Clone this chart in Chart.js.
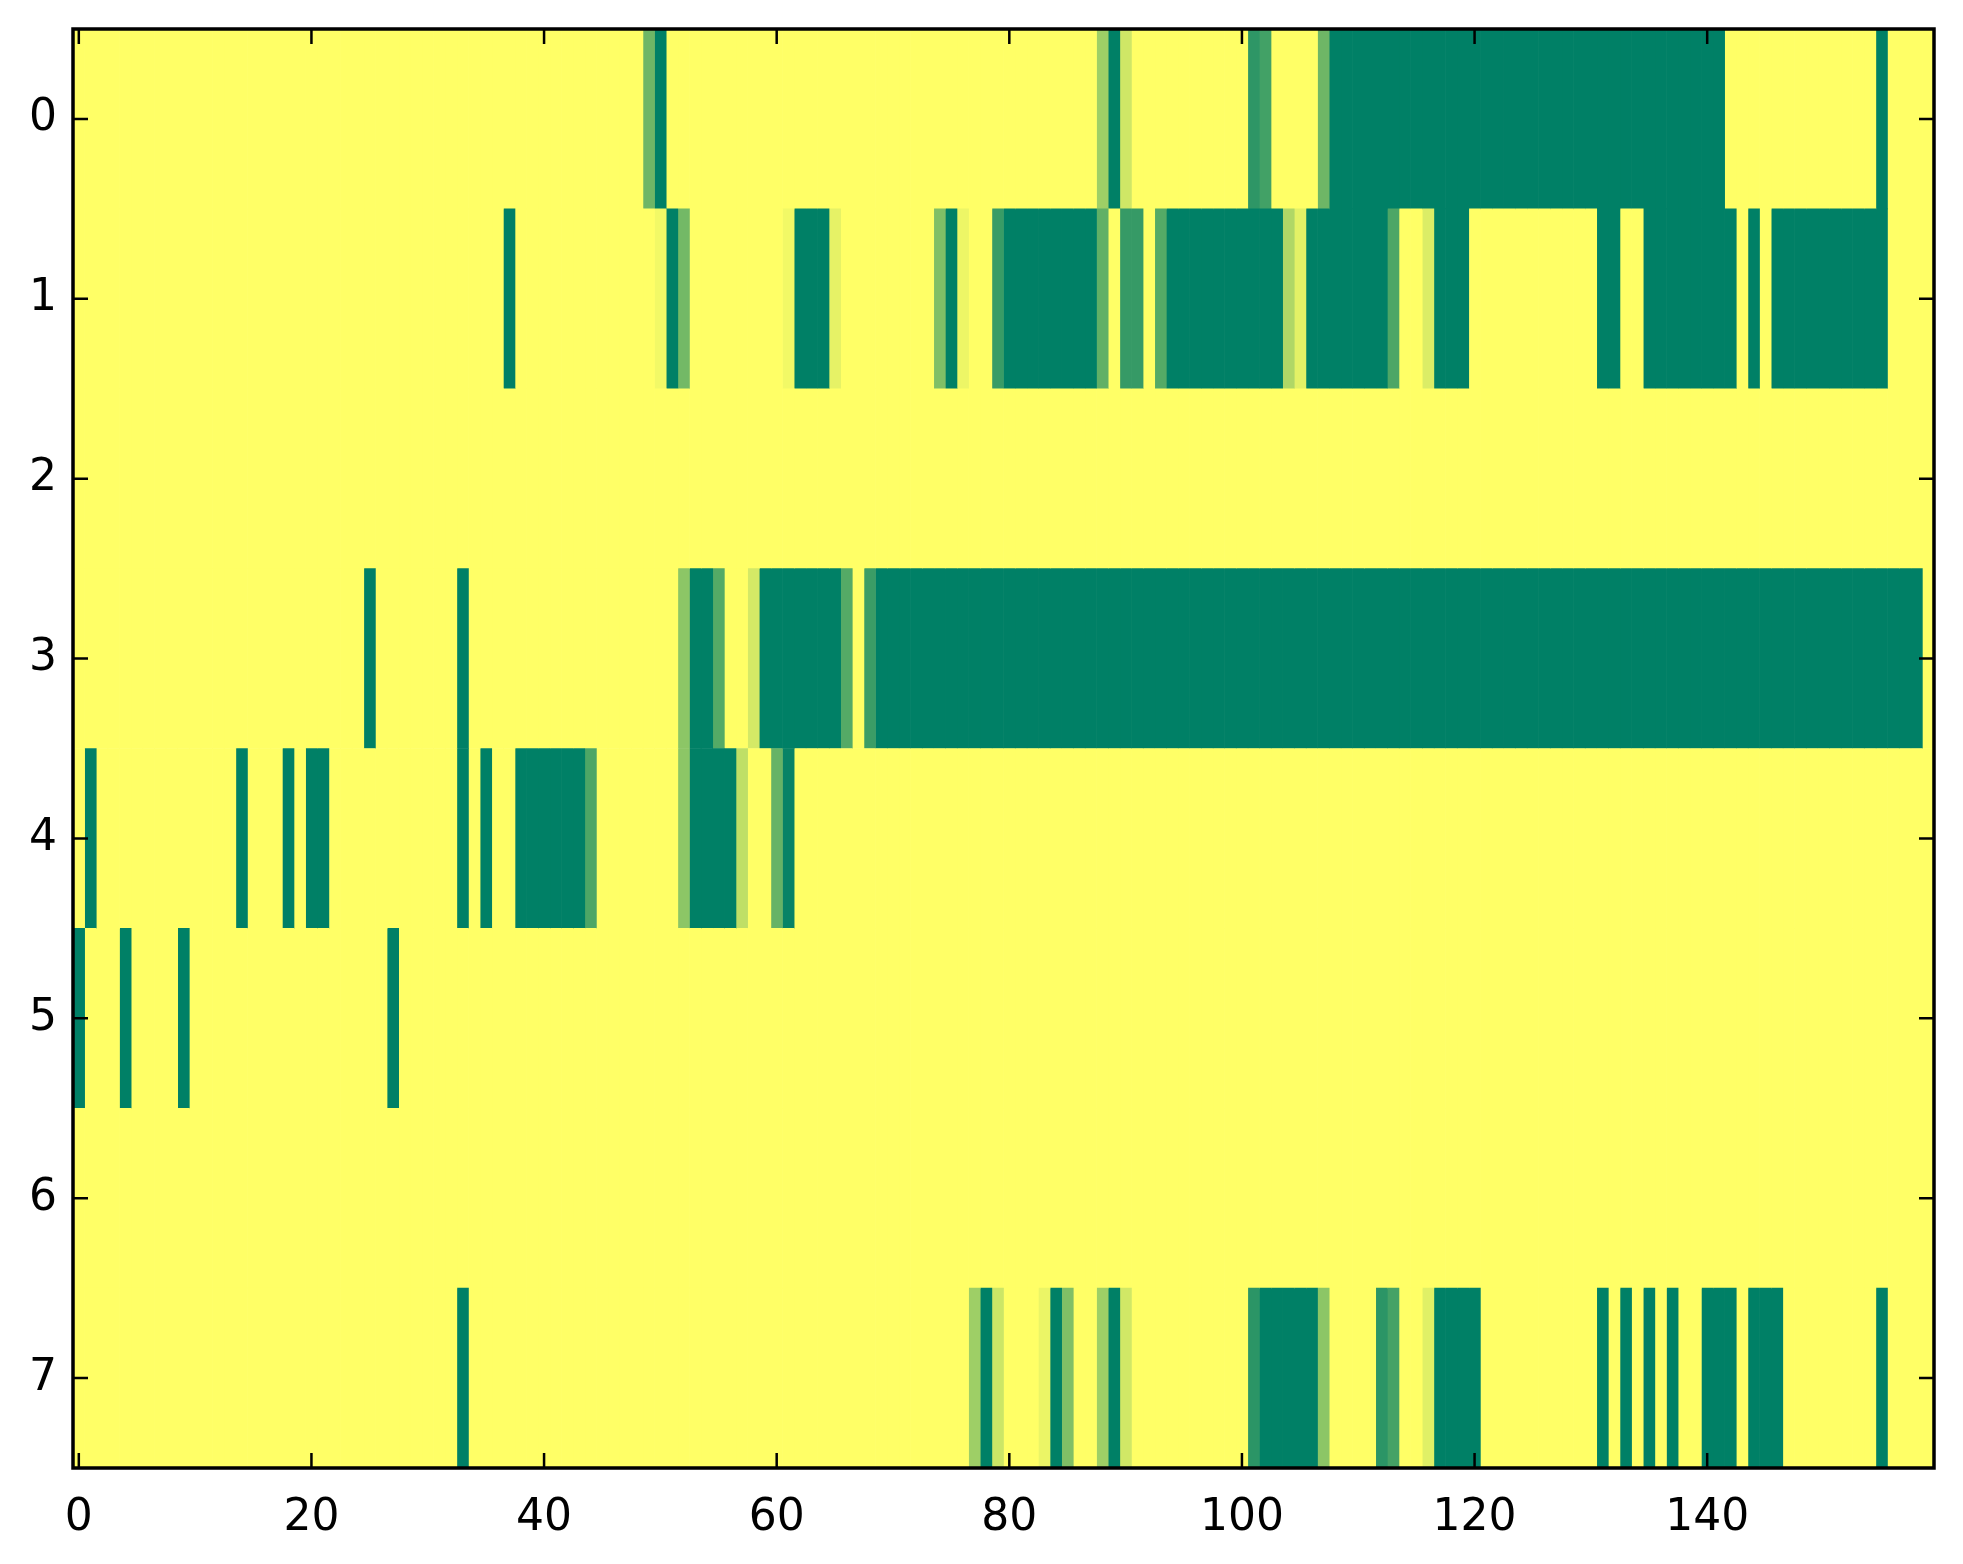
<!DOCTYPE html>
<html>
<head>
<meta charset="utf-8">
<script src="https://cdn.jsdelivr.net/npm/chart.js@4.4.1/dist/chart.umd.min.js"></script>
<style>
  html, body { margin: 0; padding: 0; background: #ffffff; }
  #carte { display: block; width: 1963px; height: 1564px; }
</style>
</head>
<body>
<canvas id="carte" width="1963" height="1564"></canvas>
<script>
// ---------------------------------------------------------------------------
// Données : une ligne de la matrice par tableau (160 colonnes, valeurs 0..1)
// ---------------------------------------------------------------------------
const etiquettesLignes = ['0', '1', '2', '3', '4', '5', '6', '7'];
const ticksX = [0, 20, 40, 60, 80, 100, 120, 140];

const ligne0 = [
  1,1,1,1,1,1,1,1,1,1,1,1,1,1,1,1,1,1,1,1,
  1,1,1,1,1,1,1,1,1,1,1,1,1,1,1,1,1,1,1,1,
  1,1,1,1,1,1,1,1,1,0.43,0,1,1,1,1,1,1,1,1,1,
  1,1,1,1,1,1,1,1,1,1,1,1,1,1,1,1,1,1,1,1,
  1,1,1,1,1,1,1,1,0.62,0,0.81,1,1,1,1,1,1,1,1,1,
  1,0.18,0.26,1,1,1,1,0.43,0,0,0,0,0,0,0,0,0,0,0,0,
  0,0,0,0,0,0,0,0,0,0,0,0,0,0,0,0,0,0,0,0,
  0,0,1,1,1,1,1,1,1,1,1,1,1,1,1,0,1,1,1,1
];
const ligne1 = [
  1,1,1,1,1,1,1,1,1,1,1,1,1,1,1,1,1,1,1,1,
  1,1,1,1,1,1,1,1,1,1,1,1,1,1,1,1,1,0,1,1,
  1,1,1,1,1,1,1,1,1,1,0.95,0,0.45,1,1,1,1,1,1,1,
  1,0.95,0,0,0,0.9,1,1,1,1,1,1,1,1,0.5,0,0.93,1,1,0.22,
  0,0,0,0,0,0,0,0,0.38,1,0.21,0.21,1,0.33,0,0,0,0,0,0,
  0,0,0,0,0.69,0.89,0,0,0,0,0,0,0,0.3,1,1,0.86,0,0,0,
  1,1,1,1,1,1,1,1,1,1,1,0,0,1,1,0,0,0,0,0,
  0,0,0,1,0,1,0,0,0,0,0,0,0,0,0,0,1,1,1,1
];
const ligne2 = [
  1,1,1,1,1,1,1,1,1,1,1,1,1,1,1,1,1,1,1,1,
  1,1,1,1,1,1,1,1,1,1,1,1,1,1,1,1,1,1,1,1,
  1,1,1,1,1,1,1,1,1,1,1,1,1,1,1,1,1,1,1,1,
  1,1,1,1,1,1,1,1,1,1,1,1,1,1,1,1,1,1,1,1,
  1,1,1,1,1,1,1,1,1,1,1,1,1,1,1,1,1,1,1,1,
  1,1,1,1,1,1,1,1,1,1,1,1,1,1,1,1,1,1,1,1,
  1,1,1,1,1,1,1,1,1,1,1,1,1,1,1,1,1,1,1,1,
  1,1,1,1,1,1,1,1,1,1,1,1,1,1,1,1,1,1,1,1
];
const ligne3 = [
  1,1,1,1,1,1,1,1,1,1,1,1,1,1,1,1,1,1,1,1,
  1,1,1,1,1,0,1,1,1,1,1,1,1,0,1,1,1,1,1,1,
  1,1,1,1,1,1,1,1,1,1,1,1,0.55,0,0,0.33,1,1,0.83,0,
  0,0,0,0,0,0,0.33,1,0.23,0,0,0,0,0,0,0,0,0,0,0,
  0,0,0,0,0,0,0,0,0,0,0,0,0,0,0,0,0,0,0,0,
  0,0,0,0,0,0,0,0,0,0,0,0,0,0,0,0,0,0,0,0,
  0,0,0,0,0,0,0,0,0,0,0,0,0,0,0,0,0,0,0,0,
  0,0,0,0,0,0,0,0,0,0,0,0,0,0,0,0,0,0,0,1
];
const ligne4 = [
  1,0,1,1,1,1,1,1,1,1,1,1,1,1,0,1,1,1,0,1,
  0,0,1,1,1,1,1,1,1,1,1,1,1,0,1,0,1,1,0,0,
  0,0,0,0,0.3,1,1,1,1,1,1,1,0.55,0,0,0,0,0.75,1,1,
  0.4,0.03,1,1,1,1,1,1,1,1,1,1,1,1,1,1,1,1,1,1,
  1,1,1,1,1,1,1,1,1,1,1,1,1,1,1,1,1,1,1,1,
  1,1,1,1,1,1,1,1,1,1,1,1,1,1,1,1,1,1,1,1,
  1,1,1,1,1,1,1,1,1,1,1,1,1,1,1,1,1,1,1,1,
  1,1,1,1,1,1,1,1,1,1,1,1,1,1,1,1,1,1,1,1
];
const ligne5 = [
  0,1,1,1,0,1,1,1,1,0,1,1,1,1,1,1,1,1,1,1,
  1,1,1,1,1,1,1,0,1,1,1,1,1,1,1,1,1,1,1,1,
  1,1,1,1,1,1,1,1,1,1,1,1,1,1,1,1,1,1,1,1,
  1,1,1,1,1,1,1,1,1,1,1,1,1,1,1,1,1,1,1,1,
  1,1,1,1,1,1,1,1,1,1,1,1,1,1,1,1,1,1,1,1,
  1,1,1,1,1,1,1,1,1,1,1,1,1,1,1,1,1,1,1,1,
  1,1,1,1,1,1,1,1,1,1,1,1,1,1,1,1,1,1,1,1,
  1,1,1,1,1,1,1,1,1,1,1,1,1,1,1,1,1,1,1,1
];
const ligne6 = [
  1,1,1,1,1,1,1,1,1,1,1,1,1,1,1,1,1,1,1,1,
  1,1,1,1,1,1,1,1,1,1,1,1,1,1,1,1,1,1,1,1,
  1,1,1,1,1,1,1,1,1,1,1,1,1,1,1,1,1,1,1,1,
  1,1,1,1,1,1,1,1,1,1,1,1,1,1,1,1,1,1,1,1,
  1,1,1,1,1,1,1,1,1,1,1,1,1,1,1,1,1,1,1,1,
  1,1,1,1,1,1,1,1,1,1,1,1,1,1,1,1,1,1,1,1,
  1,1,1,1,1,1,1,1,1,1,1,1,1,1,1,1,1,1,1,1,
  1,1,1,1,1,1,1,1,1,1,1,1,1,1,1,1,1,1,1,1
];
const ligne7 = [
  1,1,1,1,1,1,1,1,1,1,1,1,1,1,1,1,1,1,1,1,
  1,1,1,1,1,1,1,1,1,1,1,1,1,0,1,1,1,1,1,1,
  1,1,1,1,1,1,1,1,1,1,1,1,1,1,1,1,1,1,1,1,
  1,1,1,1,1,1,1,1,1,1,1,1,1,1,1,1,1,0.62,0,0.8,
  1,1,1,0.92,0,0.5,1,1,0.62,0,0.82,1,1,1,1,1,1,1,1,1,
  1,0.17,0,0,0,0,0,0.55,1,1,1,1,0.17,0.27,1,1,0.88,0,0,0,
  0,1,1,1,1,1,1,1,1,1,1,0,1,0,1,0,1,0,1,1,
  0,0,0,1,0,0,0,1,1,1,1,1,1,1,1,0,1,1,1,1
];

const matrice = [ligne0, ligne1, ligne2, ligne3, ligne4, ligne5, ligne6, ligne7];

// Palette "summer" : vert foncé (0) -> jaune (1)
function couleurSummer(v) {
    const r = Math.round(255 * v);
    const g = Math.round(255 * (0.5 + 0.5 * v));
    return `rgb(${r},${g},102)`;
}

const POLICE = { family: 'DejaVu Sans', size: 44 };

// Une série par colonne : une barre flottante [c-0.5, c+0.5] sur chaque ligne
const nbColonnes = ligne0.length;
const series = [];
for (let c = 0; c < nbColonnes; c++) {
    series.push({
        data: matrice.map(() => [c - 0.5, c + 0.5]),
        backgroundColor: matrice.map(ligne => couleurSummer(ligne[c])),
        borderWidth: 0,
        grouped: false,
        barPercentage: 1,
        categoryPercentage: 1
    });
}

// Cadre et graduations intérieures sur les quatre côtés
const cadre = {
    id: 'cadre',
    afterDraw(chart) {
        const { ctx, chartArea: a, scales } = chart;
        const L = 15;
        ctx.save();
        ctx.strokeStyle = '#000';
        ctx.lineWidth = 2.5;
        ctx.beginPath();
        scales.x.ticks.forEach(t => {
            const px = scales.x.getPixelForValue(t.value);
            ctx.moveTo(px, a.bottom); ctx.lineTo(px, a.bottom - L);
            ctx.moveTo(px, a.top); ctx.lineTo(px, a.top + L);
        });
        scales.y.ticks.forEach((t, i) => {
            const py = scales.y.getPixelForTick(i);
            ctx.moveTo(a.left, py); ctx.lineTo(a.left + L, py);
            ctx.moveTo(a.right, py); ctx.lineTo(a.right - L, py);
        });
        ctx.stroke();
        ctx.lineWidth = 3.5;
        ctx.strokeRect(a.left, a.top, a.right - a.left, a.bottom - a.top);
        ctx.restore();
    }
};

new Chart(document.getElementById('carte'), {
    type: 'bar',
    data: { labels: etiquettesLignes, datasets: series },
    options: {
        indexAxis: 'y',
        responsive: false,
        devicePixelRatio: 1,
        animation: false,
        layout: { padding: { top: 29, right: 29, left: 0, bottom: 0 } },
        plugins: { legend: { display: false }, tooltip: { enabled: false } },
        scales: {
            x: {
                type: 'linear',
                min: -0.5,
                max: nbColonnes - 0.5,
                grid: { display: false, drawTicks: false },
                border: { display: false },
                afterBuildTicks: s => { s.ticks = ticksX.map(v => ({ value: v })); },
                afterFit: s => { s.height = 96; s.paddingLeft = 0; s.paddingRight = 0; },
                ticks: { font: POLICE, color: '#000', padding: 24, maxRotation: 0 }
            },
            y: {
                type: 'category',
                grid: { display: false, drawTicks: false },
                border: { display: false },
                afterFit: s => { s.width = 73; s.paddingTop = 0; s.paddingBottom = 0; },
                ticks: { font: POLICE, color: '#000', padding: 16 }
            }
        }
    },
    plugins: [cadre]
});
</script>
</body>
</html>
